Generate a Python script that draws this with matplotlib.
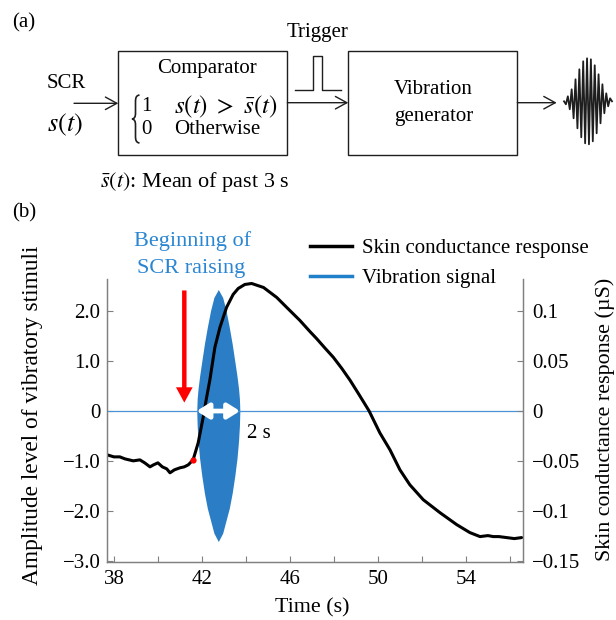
import numpy as np
import matplotlib
matplotlib.use('Agg')
import matplotlib.pyplot as plt
from matplotlib.patches import Rectangle, PathPatch
from matplotlib.path import Path
from matplotlib.lines import Line2D

plt.rcParams['font.family'] = ['Liberation Serif', 'DejaVu Serif']
plt.rcParams['mathtext.fontset'] = 'stix'

# skin conductance response (uS)
scr_time = [37.7, 38.0, 38.27, 38.5, 38.88, 39.18, 39.4, 39.64, 39.8, 40.0,
            40.2, 40.4, 40.55, 40.75, 41.0, 41.2, 41.38, 41.6, 41.83, 42.06,
            42.2, 42.36, 42.59, 42.82, 43.12, 43.42, 43.65, 43.95, 44.26, 44.8, 45.4,
            45.9, 46.45, 46.9, 47.2, 47.6, 47.97, 48.35, 48.73, 49.1, 49.49,
            49.6, 50.09, 50.55, 51.0, 51.45, 52.06, 52.82, 53.58, 54.18, 54.64,
            55.0, 55.24, 55.5, 55.85, 56.2, 56.53]
scr_value = [-0.044, -0.046, -0.046, -0.048, -0.050, -0.049, -0.052, -0.056, -0.054, -0.052,
             -0.056, -0.058, -0.062, -0.059, -0.057, -0.056, -0.054, -0.049, -0.032, -0.006,
             0.012, 0.031, 0.064, 0.084, 0.104, 0.117, 0.123, 0.127, 0.128, 0.124, 0.114,
             0.103, 0.091, 0.080, 0.073, 0.063, 0.054, 0.043, 0.031, 0.018, 0.004,
             0.0, -0.022, -0.039, -0.059, -0.074, -0.089, -0.102, -0.114, -0.122, -0.126,
             -0.125, -0.126, -0.126, -0.127, -0.128, -0.127]

# onset of SCR raising
onset_time = 41.6
onset_value = -0.049

# vibration burst envelope (amplitude level)
vib_time = [41.765, 41.785, 41.825, 41.895, 41.995, 42.115, 42.245, 42.395, 42.545, 42.745,
            42.945, 43.095, 43.245, 43.375, 43.495, 43.595, 43.665, 43.705, 43.725]
vib_upper = [0, 0.25, 0.45, 0.7, 1.0, 1.35, 1.68, 2.02, 2.28, 2.44,
             2.28, 2.02, 1.68, 1.35, 1.0, 0.7, 0.45, 0.25, 0]
vib_lower = [0, -0.3, -0.6, -0.95, -1.3, -1.65, -1.95, -2.2, -2.45, -2.62,
             -2.45, -2.2, -1.95, -1.65, -1.3, -0.95, -0.6, -0.3, 0]

left_ticks = [-3, -2, -1, 0, 1, 2]
left_labels = ['\u22123.0', '\u22122.0', '\u22121.0', '0', '1.0', '2.0']
right_ticks = [-0.15, -0.1, -0.05, 0, 0.05, 0.1]
right_labels = ['\u22120.15', '\u22120.1', '\u22120.05', '0', '0.05', '0.1']
time_ticks = [38, 42, 46, 50, 54]
time_minor = [40, 44, 48, 52, 56]

# output burst icon in panel (a): peak heights in px
icon_peaks = [0, 3, 5, 8, 12, 17, 22, 27, 32, 36, 40, 42, 43,
              43, 42, 40, 36, 32, 27, 22, 17, 12, 8, 5, 3, 0]

fig = plt.figure(figsize=(6.16, 6.2), dpi=100)

# ---- panel (a): block diagram in pixel coordinates ----
sch = fig.add_axes([0, 0, 1, 1])
sch.set_xlim(0, 616)
sch.set_ylim(620, 0)
sch.axis('off')

ink = '#1e1e1e'
sch.add_patch(Rectangle((118.3, 51), 169, 104, fill=False, lw=1.0, ec=ink))
sch.add_patch(Rectangle((348.3, 51), 169, 104, fill=False, lw=1.0, ec=ink))

arrow_kw = dict(arrowstyle='->,head_length=0.55,head_width=0.3', lw=1.0, color=ink,
                mutation_scale=15, shrinkA=0, shrinkB=0)
sch.annotate('', xy=(118.3, 103.3), xytext=(74, 103.3), arrowprops=arrow_kw)
sch.annotate('', xy=(348.3, 102.7), xytext=(287.3, 102.7), arrowprops=arrow_kw)
sch.annotate('', xy=(556.7, 102.7), xytext=(517.3, 102.7), arrowprops=arrow_kw)

sch.plot([295, 313.3, 313.3, 321.7, 321.7, 341], [90, 90, 56, 56, 90, 90], color=ink, lw=1.0)

signs = np.array([1 if i % 2 == 0 else -1 for i in range(len(icon_peaks))])
icon_x = np.linspace(564, 612, len(icon_peaks))
sch.plot(icon_x, 101.3 - signs * np.array(icon_peaks), color=ink, lw=1.3)

# curly brace of the comparator rule
brace = Path([(139.5, 95), (136, 95.5), (135.5, 98), (135.5, 102),
              (135.5, 113),
              (135.5, 117), (134.5, 118.5), (132, 119),
              (134.5, 119.5), (135.5, 121), (135.5, 125),
              (135.5, 136),
              (135.5, 140), (136, 142.5), (139.5, 143)],
             [Path.MOVETO, Path.CURVE4, Path.CURVE4, Path.CURVE4,
              Path.LINETO,
              Path.CURVE4, Path.CURVE4, Path.CURVE4,
              Path.CURVE4, Path.CURVE4, Path.CURVE4,
              Path.LINETO,
              Path.CURVE4, Path.CURVE4, Path.CURVE4])
sch.add_patch(PathPatch(brace, fill=False, lw=1.2, ec=ink))

fs_a = 15
sch.text(24, 23, '(a)', fontsize=fs_a, ha='center', va='center')
sch.text(317.5, 32, 'Trigger', fontsize=fs_a, ha='center', va='center')
sch.text(206.7, 68.3, 'Comparator', fontsize=fs_a, ha='center', va='center')
sch.text(66, 83, 'SCR', fontsize=fs_a, ha='center', va='center')
sch.text(65, 125, r'$s(t)$', fontsize=19, ha='center', va='center')
sch.text(146.7, 106.7, '1', fontsize=fs_a, ha='center', va='center')
sch.text(146.7, 130, '0', fontsize=fs_a, ha='center', va='center')
sch.text(174, 106.7, r'$s(t)\ >\ \bar{s}(t)$', fontsize=18, ha='left', va='center')
sch.text(174, 130, 'Otherwise', fontsize=fs_a, ha='left', va='center')
sch.text(195, 181.7, r'$\bar{s}(t)$: Mean of past 3 s', fontsize=16, ha='center', va='center')
sch.text(433.3, 90, 'Vibration', fontsize=fs_a, ha='center', va='center')
sch.text(433.3, 116, 'generator', fontsize=fs_a, ha='center', va='center')

sch.text(24, 213, '(b)', fontsize=fs_a, ha='center', va='center')
blue_txt = '#2a86d2'
sch.text(192.5, 241, 'Beginning of', fontsize=16, ha='center', va='center', color=blue_txt)
sch.text(191.5, 269, 'SCR raising', fontsize=16, ha='center', va='center', color=blue_txt)
sch.text(33, 415, 'Amplitude level of vibratory stimuli', fontsize=16.8,
         rotation=90, ha='center', va='center')
sch.text(605, 419, 'Skin conductance response (\u00b5S)', fontsize=15.8,
         rotation=90, ha='center', va='center')
sch.text(312.5, 608, 'Time (s)', fontsize=15.8, ha='center', va='center')

# ---- panel (b): chart ----
ax = fig.add_axes([107.3 / 616, 1 - 562 / 620, 415.4 / 616, 283 / 620])
ax.set_xlim(37.7, 56.58)
ax.set_ylim(-3.03, 2.65)
ax2 = ax.twinx()
ax2.set_ylim(-3.03 * 0.05, 2.65 * 0.05)

vib_color = '#2b7ec6'
ax.axhline(0, color='#4a94d6', lw=0.9)
ax.fill_between(vib_time, vib_lower, vib_upper, color=vib_color, lw=0)

ax2.plot(scr_time, scr_value, color='black', lw=2.2, solid_capstyle='round')
ax2.plot([onset_time], [onset_value], 'o', color='red', ms=4.5, mec='none')

ax.annotate('', xy=(41.2, 0.17), xytext=(41.2, 2.42),
            arrowprops=dict(arrowstyle='simple,head_length=1.1,head_width=1.2,tail_width=0.32',
                            color='red', mutation_scale=10, shrinkA=0, shrinkB=0, lw=0))
ax2.annotate('', xy=(43.73, 0), xytext=(41.76, 0),
             arrowprops=dict(arrowstyle='<|-|>,head_length=0.4,head_width=0.25',
                             color='white', lw=3.4, mutation_scale=18, shrinkA=0, shrinkB=0))
ax.text(44.03, -0.45, '2 s', fontsize=15, ha='left', va='center')

spine_c = '#808080'
for a in (ax, ax2):
    a.spines['top'].set_visible(False)
    for s in ('left', 'right', 'bottom'):
        a.spines[s].set_color(spine_c)
        a.spines[s].set_linewidth(0.9)

ax.set_xticks(time_ticks)
ax.set_xticks(time_minor, minor=True)
ax.set_yticks(left_ticks, left_labels)
ax2.set_yticks(right_ticks, right_labels)
ax.tick_params(which='both', direction='in', length=4, width=0.8, color=spine_c,
               labelsize=15, pad=5)
ax.tick_params(axis='x', pad=6)
ax2.tick_params(direction='in', length=4, width=0.8, color=spine_c, labelsize=15, pad=7)

handles = [Line2D([], [], color='black', lw=2.5), Line2D([], [], color='#1f7fc9', lw=2.5)]
fig.legend(handles, ['Skin conductance response', 'Vibration signal'],
           loc='upper left', bbox_to_anchor=(310 / 616, 1 - 238.5 / 620),
           frameon=False, fontsize=15, handlelength=2.0, handletextpad=0.5,
           labelspacing=0.51, borderpad=0, borderaxespad=0)

fig.savefig('out.png', dpi=100)
